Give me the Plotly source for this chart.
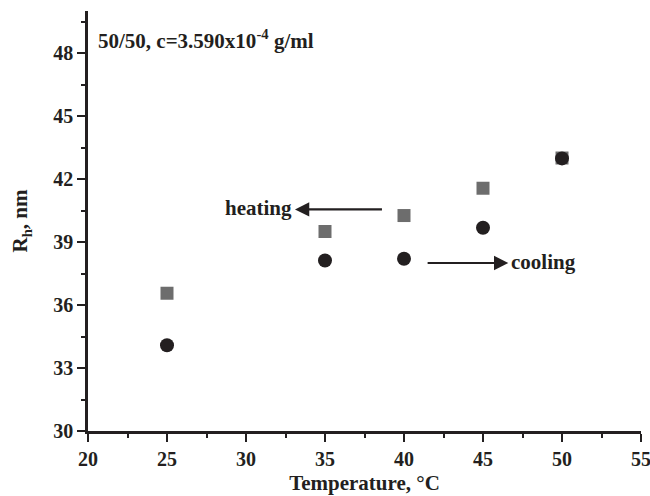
import plotly.graph_objects as go

temps = [25, 35, 40, 45, 50]
heating = [36.56, 39.50, 40.26, 41.56, 43.0]
cooling = [34.08, 38.12, 38.20, 39.68, 42.98]

x_ticks = [20, 25, 30, 35, 40, 45, 50, 55]
y_ticks = [30, 33, 36, 39, 42, 45, 48]

FONT = "Liberation Serif"
INK = "#231f20"

fig = go.Figure()
fig.add_trace(go.Scatter(x=temps, y=heating, mode="markers", name="heating",
                         marker=dict(symbol="square", size=13, color="#6d6d6d")))
fig.add_trace(go.Scatter(x=temps, y=cooling, mode="markers", name="cooling",
                         marker=dict(symbol="circle", size=14, color=INK)))

axis_common = dict(
    showline=True, linecolor=INK, linewidth=2.5, mirror=False, automargin=False,
    showgrid=False, zeroline=False, ticks="outside", ticklen=8, tickwidth=2,
    tickcolor=INK,
    tickfont=dict(family=FONT, size=20, color=INK),
)

fig.update_xaxes(range=[20, 55], tickvals=x_ticks,
                 ticktext=[f"<b>{v}</b>" for v in x_ticks], **axis_common,
                 ticklabeloverflow="allow",
                 minor=dict(dtick=2.5, ticks="outside", ticklen=4, tickwidth=2, tickcolor=INK),
                 title=dict(text="<b>Temperature, °C</b>", standoff=7,
                            font=dict(family=FONT, size=21, color=INK)))
fig.update_yaxes(range=[30, 50], tickvals=y_ticks,
                 ticktext=[f"<b>{v}</b>" for v in y_ticks], **axis_common,
                 minor=dict(dtick=1.5, ticks="outside", ticklen=4, tickwidth=2, tickcolor=INK),
                 title=dict(text="<b>R<sub>h</sub>, nm</b>", standoff=20,
                            font=dict(family=FONT, size=21, color=INK)))

txtfont = dict(family=FONT, size=21, color=INK)
fig.add_annotation(x=20.5, y=48.65, xref="x", yref="y", xanchor="left", yanchor="middle",
                   text="<b>50/50, c=3.590x10<sup>-4</sup> g/ml</b>", showarrow=False,
                   font=dict(family=FONT, size=21, color=INK))
# arrows
fig.add_annotation(x=33.1, y=40.55, ax=38.7, ay=40.55, xref="x", yref="y", axref="x", ayref="y",
                   text="", showarrow=True, arrowhead=2, arrowsize=1.3, arrowwidth=2.2,
                   arrowcolor=INK)
fig.add_annotation(x=46.6, y=38.0, ax=41.4, ay=38.0, xref="x", yref="y", axref="x", ayref="y",
                   text="", showarrow=True, arrowhead=2, arrowsize=1.3, arrowwidth=2.2,
                   arrowcolor=INK)
fig.add_annotation(x=33.05, y=40.6, xref="x", yref="y", xanchor="right", yanchor="middle",
                   text="<b>heating</b>", showarrow=False, font=txtfont)
fig.add_annotation(x=46.65, y=38.05, xref="x", yref="y", xanchor="left", yanchor="middle",
                   text="<b>cooling</b>", showarrow=False, font=txtfont)

fig.update_layout(
    width=650, height=496,
    margin=dict(l=88, r=9, t=11, b=65),
    paper_bgcolor="white", plot_bgcolor="white",
    showlegend=False,
)
fig.write_html("out.html", config={"displayModeBar": False},
               post_script="document.body.style.margin='0';document.body.style.overflow='hidden';")
